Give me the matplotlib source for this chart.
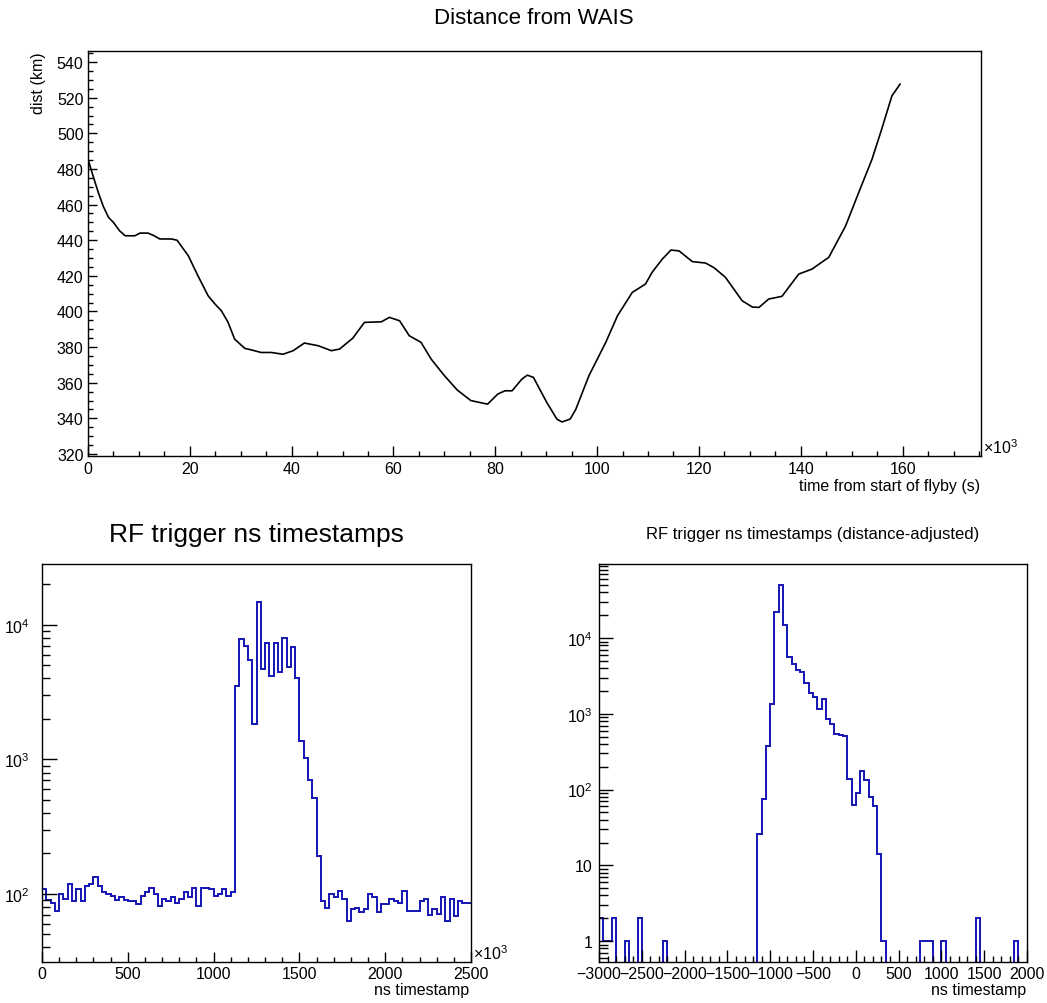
import matplotlib
matplotlib.use('Agg')
import matplotlib.pyplot as plt
from matplotlib.ticker import MultipleLocator, FixedLocator, FuncFormatter, LogLocator, NullFormatter
import numpy as np

plt.rcParams['font.family'] = ['Liberation Sans', 'DejaVu Sans']
plt.rcParams['mathtext.fontset'] = 'custom'
plt.rcParams['mathtext.rm'] = 'Liberation Sans'
plt.rcParams['mathtext.it'] = 'Liberation Sans:italic'
plt.rcParams['axes.unicode_minus'] = True

# ---- distance from WAIS vs time (x in 10^3 s) ----
t_k = [0, 1, 2, 3, 4, 4.3, 5, 6.2, 7.3, 9.2, 10.2, 11.8, 13, 14.1, 16.4, 17.5, 19.7,
       21.6, 23.6, 25, 26.2, 27.5, 28.8, 30.8, 32, 34, 36, 38.3, 40.3, 42.5, 45.2,
       47.8, 49.4, 52, 54.3, 57.6, 59.2, 61.2, 63.1, 65.4, 67.4, 70, 72.5, 75.2,
       78.5, 80.5, 81.9, 83.3, 85.2, 86.3, 87.5, 90.1, 92.1, 93.1, 94.7, 95.8,
       98.4, 101.7, 104, 106.9, 109.5, 110.8, 112.8, 114.5, 116.1, 118.7, 121.3,
       123, 125.2, 128.5, 130.5, 131.8, 133.7, 136.3, 139.6, 142.2, 145.5, 148.8,
       151.4, 154, 155.9, 157.9, 159.5]
dist_km = [485.5, 476, 467, 459, 453, 452, 450, 445.3, 442.5, 442.5, 444, 444, 442.5,
           440.7, 440.7, 440, 431.3, 420, 408.8, 404, 400.4, 394, 384.5, 379.3, 378.5,
           377, 377, 376, 378, 382.3, 380.8, 378, 378.9, 385, 393.9, 394.2, 396.7,
           394.8, 386.4, 382.7, 373.3, 364, 356, 350, 348, 353.7, 355.5, 355.5, 362,
           364.3, 363, 349, 339.6, 338, 339.6, 345, 364, 382.7, 397.6, 410.7, 415.4,
           422, 429.4, 434.5, 434, 428, 427.2, 424.5, 419.2, 406, 402.5, 402.3, 407,
           408.5, 421, 423.8, 430.4, 448, 466.9, 485.5, 502.4, 521, 527.6]

# ---- RF trigger ns timestamps (100 bins, 0..2500 x10^3) ----
raw_edges = np.linspace(0, 2500, 101)
raw_counts = [108, 90, 85, 75, 100, 92, 119, 89, 108, 89,
              115, 118, 133, 115, 103, 100, 97, 90, 95, 90,
              89, 88, 84, 97, 103, 111, 100, 82, 92, 89,
              95, 86, 92, 103, 95, 111, 82, 111, 111, 108,
              97, 100, 108, 97, 103, 3500, 7900, 7000, 5500, 1850,
              14800, 4700, 7400, 4200, 7400, 4500, 8000, 4900, 6800, 4000,
              1370, 1030, 700, 520, 190, 88, 79, 100, 95, 105,
              92, 63, 77, 79, 73, 77, 100, 95, 73, 84,
              84, 92, 88, 86, 105, 75, 75, 75, 88, 92,
              70, 77, 71, 95, 63, 92, 68, 88, 86, 86]

# ---- distance-adjusted timestamps (100 bins, -3000..2000) ----
adj_edges = np.linspace(-3000, 2000, 101)
adj_counts = [2, 1, 1, 2, 0, 0, 1, 0, 0, 2,
              0, 0, 0, 0, 0, 1, 0, 0, 0, 0,
              0, 0, 0, 0, 0, 0, 0, 0, 0, 0,
              0, 0, 0, 0, 0, 0, 0, 26, 76, 372,
              1330, 22000, 50000, 15000, 5700, 4500, 3800, 3600, 2550, 1900,
              1650, 1150, 1550, 850, 730, 550, 530, 510, 140, 63,
              90, 177, 135, 80, 61, 14, 1, 0, 0, 0,
              0, 0, 0, 0, 0, 1, 1, 1, 0, 0,
              1, 0, 0, 0, 0, 0, 0, 0, 2, 0,
              0, 0, 0, 0, 0, 0, 0, 1, 0, 0]

PX = 0.72  # points per pixel at dpi 100
fs_tick = 16 * PX
hist_color = '#1414b4'

fig = plt.figure(figsize=(10.47, 10.04), dpi=100)

def style(ax, ymaj, ymin, xmaj, xmin, ypad, xpad):
    ax.tick_params(which='both', direction='in', top=False, right=False,
                   labelsize=fs_tick, width=1.0, color='black')
    ax.tick_params(axis='y', which='major', length=ymaj, pad=ypad)
    ax.tick_params(axis='y', which='minor', length=ymin)
    ax.tick_params(axis='x', which='major', length=xmaj, pad=xpad)
    ax.tick_params(axis='x', which='minor', length=xmin)
    for s in ax.spines.values():
        s.set_linewidth(1.0)

# top: distance
ax1 = fig.add_axes([88 / 1047, 1 - 457 / 1004, 893 / 1047, 405 / 1004])
ax1.plot(t_k, dist_km, color='black', lw=1.2)
ax1.set_xlim(0, 175.4)
ax1.set_ylim(318.9, 546.2)
ax1.xaxis.set_major_locator(MultipleLocator(20))
ax1.xaxis.set_minor_locator(MultipleLocator(5))
ax1.yaxis.set_major_locator(MultipleLocator(20))
ax1.yaxis.set_minor_locator(MultipleLocator(5))
ax1.set_xticks([0, 20, 40, 60, 80, 100, 120, 140, 160])
style(ax1, 9 * PX, 5 * PX, 10 * PX, 5 * PX, 4.5 * PX, 5 * PX)
fig.text(534 / 1047, 1 - 18 / 1004, 'Distance from WAIS', ha='center', va='center',
         fontsize=16)
ax1.annotate(r'$\times\mathregular{10^{3}}$', xy=(1, 0), xycoords='axes fraction',
             xytext=(2 * PX, 0), textcoords='offset points', ha='left', va='bottom',
             fontsize=fs_tick)
fig.text(980 / 1047, 1 - 487 / 1004, 'time from start of flyby (s)', ha='right',
         va='center', fontsize=fs_tick)
fig.text(38 / 1047, 1 - 52 / 1004, 'dist (km)', ha='center', va='top', rotation=90,
         fontsize=fs_tick)

def pow_label(v, pos):
    if v <= 0:
        return ''
    e = int(round(np.log10(v)))
    if e == 0:
        return '1'
    if e == 1:
        return '10'
    return r'$\mathregular{10^{%d}}$' % e

# bottom left
ax2 = fig.add_axes([42 / 1047, 1 - 963 / 1004, 429 / 1047, 398 / 1004])
ax2.stairs(np.maximum(raw_counts, 1e-3), raw_edges, baseline=None, color=hist_color, lw=1.4)
ax2.set_yscale('log')
ax2.set_xlim(0, 2500)
ax2.set_ylim(31.2, 28400)
ax2.xaxis.set_major_locator(MultipleLocator(500))
ax2.xaxis.set_minor_locator(MultipleLocator(100))
ax2.yaxis.set_major_locator(FixedLocator([1e2, 1e3, 1e4]))
ax2.yaxis.set_minor_locator(LogLocator(base=10, subs=np.arange(2, 10)))
ax2.yaxis.set_major_formatter(FuncFormatter(pow_label))
ax2.yaxis.set_minor_formatter(NullFormatter())
style(ax2, 15 * PX, 8 * PX, 10 * PX, 5 * PX, 12 * PX, 4 * PX)
fig.text(256 / 1047, 1 - 535 / 1004, 'RF trigger ns timestamps', ha='center',
         va='center', fontsize=19)
ax2.annotate(r'$\times\mathregular{10^{3}}$', xy=(1, 0), xycoords='axes fraction',
             xytext=(2 * PX, 0), textcoords='offset points', ha='left', va='bottom',
             fontsize=fs_tick)
fig.text(469 / 1047, 1 - 991 / 1004, 'ns timestamp', ha='right', va='center',
         fontsize=fs_tick)

# bottom right
ax3 = fig.add_axes([599 / 1047, 1 - 963 / 1004, 428 / 1047, 398 / 1004])
ax3.stairs(np.maximum(adj_counts, 1e-3), adj_edges, baseline=None, color=hist_color, lw=1.4)
ax3.set_yscale('log')
ax3.set_xlim(-3000, 2000)
ax3.set_ylim(0.53, 95000)
ax3.xaxis.set_major_locator(MultipleLocator(500))
ax3.xaxis.set_minor_locator(MultipleLocator(100))
ax3.yaxis.set_major_locator(FixedLocator([1, 10, 1e2, 1e3, 1e4]))
ax3.yaxis.set_minor_locator(LogLocator(base=10, subs=np.arange(2, 10)))
ax3.yaxis.set_major_formatter(FuncFormatter(pow_label))
ax3.yaxis.set_minor_formatter(NullFormatter())
style(ax3, 14 * PX, 9 * PX, 12 * PX, 6 * PX, 6 * PX, 4 * PX)
fig.text(813 / 1047, 1 - 535 / 1004, 'RF trigger ns timestamps (distance-adjusted)',
         ha='center', va='center', fontsize=12)
fig.text(1026 / 1047, 1 - 991 / 1004, 'ns timestamp', ha='right', va='center',
         fontsize=fs_tick)

fig.savefig('out.png', dpi=100)
